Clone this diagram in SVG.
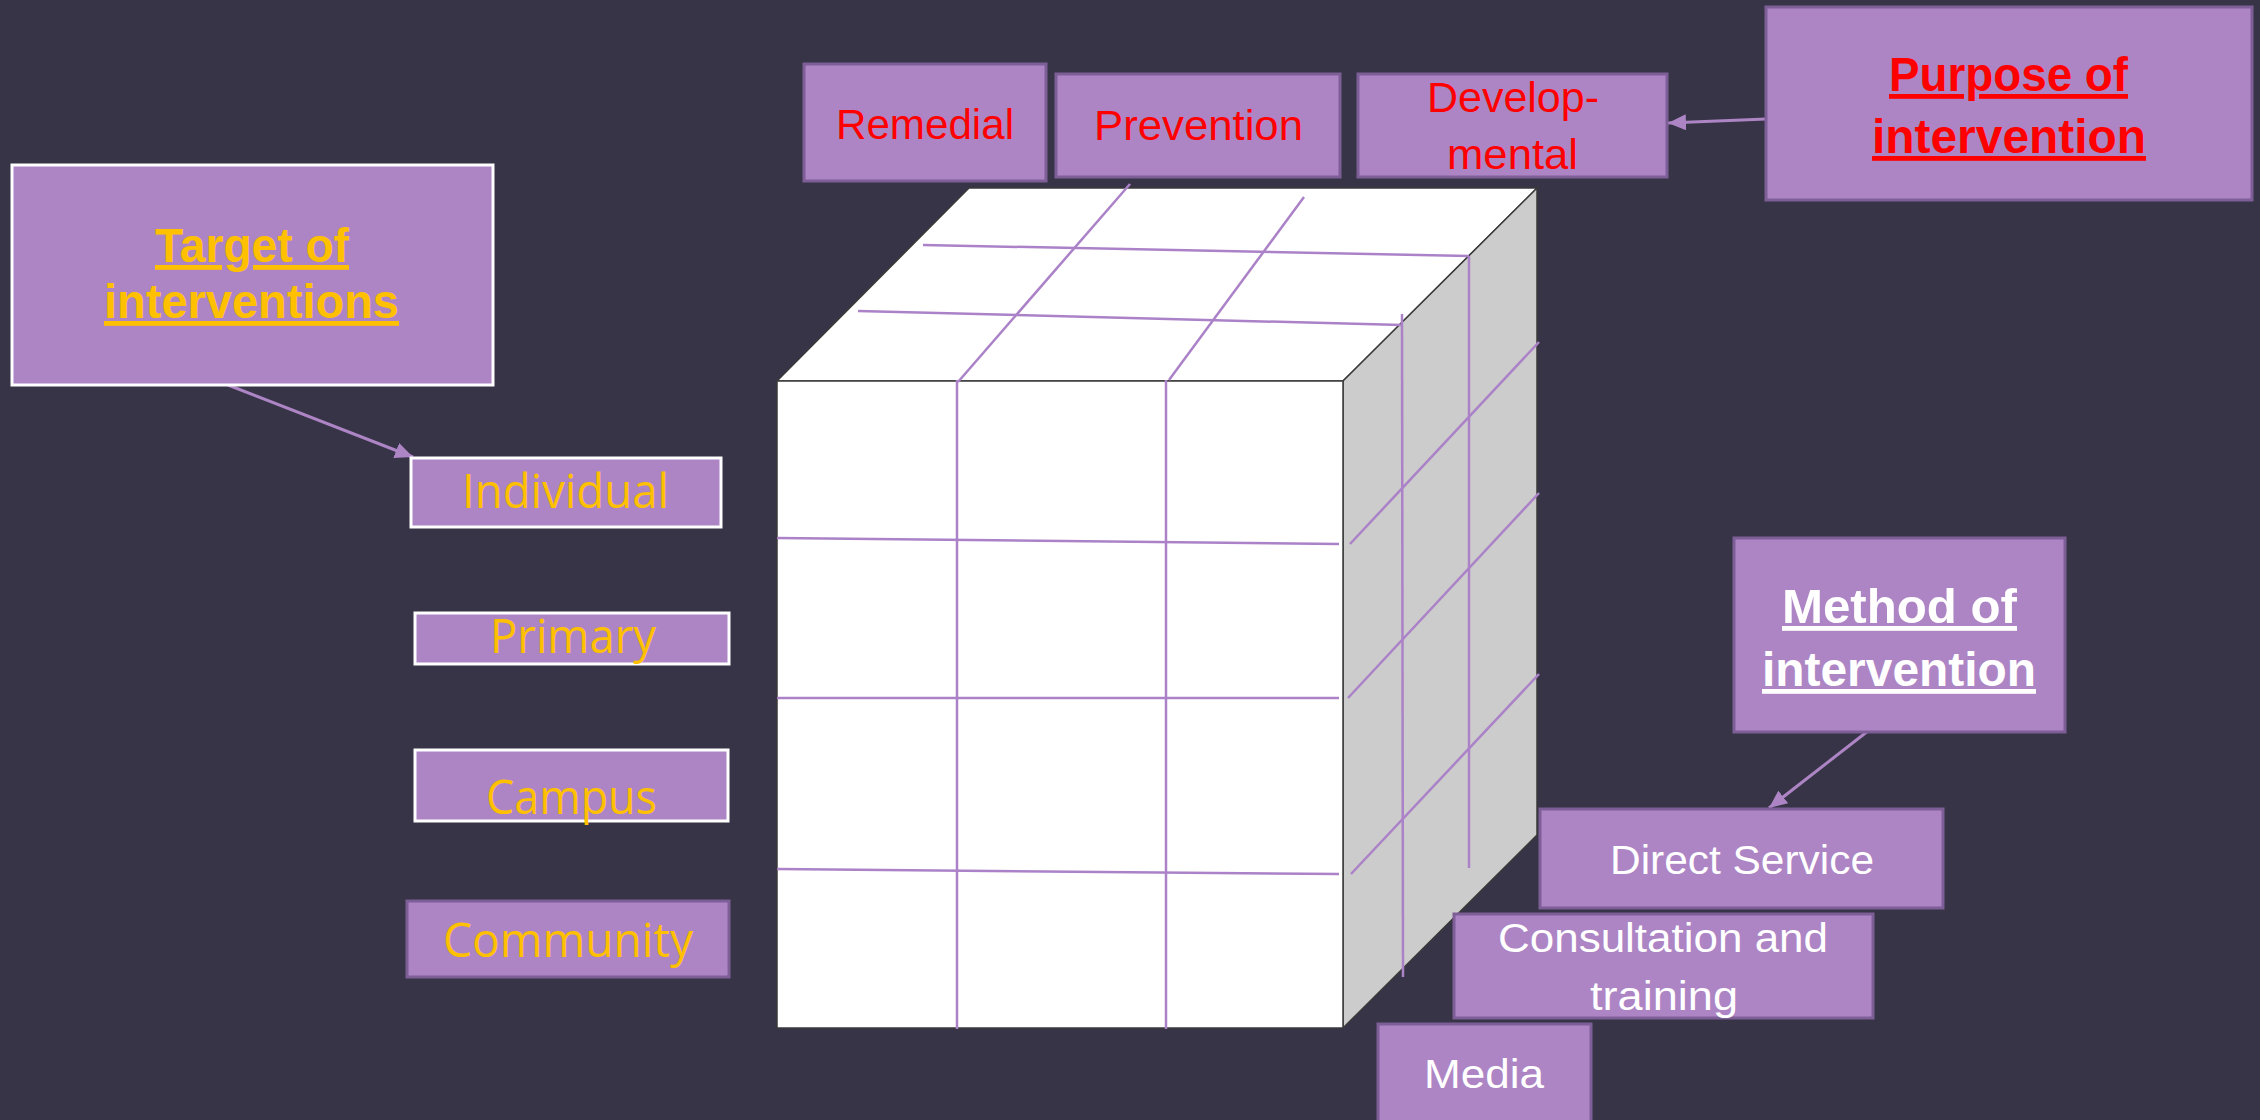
<svg xmlns="http://www.w3.org/2000/svg" width="2260" height="1120" viewBox="0 0 2260 1120">
<style>
.box{fill:#ad85c5;stroke:#7e5e96;stroke-width:3}
.wbox{fill:#ad85c5;stroke:#ffffff;stroke-width:3}
.gold{font-family:"Open Sans","Liberation Sans",sans-serif;font-size:48px;fill:#ffc000}
.red{font-family:"Liberation Sans",sans-serif;font-size:42px;fill:#ff0000}
.wht{font-family:"Liberation Sans",sans-serif;font-size:40px;fill:#ffffff}
.head{font-family:"Liberation Sans",sans-serif;font-weight:bold;font-size:48px;text-decoration:underline}
.grid{stroke:#ab82c8;stroke-width:2.5;fill:none}
.conn{stroke:#ad85c5;stroke-width:3;fill:none}
.face{stroke:#3a3a3a;stroke-width:1.5}
</style>
<defs>
<marker id="arr" markerUnits="userSpaceOnUse" markerWidth="20" markerHeight="18" refX="18" refY="8" orient="auto">
<path d="M0,0 L18,8 L0,16 z" fill="#ad85c5"/>
</marker>
</defs>
<rect x="0" y="0" width="2260" height="1120" fill="#373447"/>

<g id="cube">
<polygon class="face" points="777,381 969,188 1537,188 1343,381" fill="#ffffff"/>
<polygon class="face" points="1343,381 1537,188 1537,835 1343,1028" fill="#cccccc"/>
<rect class="face" x="777" y="381" width="566" height="647" fill="#ffffff"/>
<line class="grid" x1="923" y1="245" x2="1469" y2="256"/>
<line class="grid" x1="858" y1="311" x2="1402" y2="325"/>
<line class="grid" x1="1130" y1="184" x2="958" y2="382"/>
<line class="grid" x1="1304" y1="197" x2="1169" y2="380"/>
<line class="grid" x1="957" y1="380" x2="957" y2="1029"/>
<line class="grid" x1="1166" y1="380" x2="1166" y2="1029"/>
<line class="grid" x1="777" y1="538" x2="1339" y2="544"/>
<line class="grid" x1="777" y1="698" x2="1339" y2="698"/>
<line class="grid" x1="777" y1="869" x2="1339" y2="874"/>
<line class="grid" x1="1402" y1="314" x2="1403" y2="977"/>
<line class="grid" x1="1469" y1="256" x2="1469" y2="868"/>
<line class="grid" x1="1350" y1="544" x2="1539" y2="342"/>
<line class="grid" x1="1348" y1="698" x2="1539" y2="493"/>
<line class="grid" x1="1351" y1="874" x2="1539" y2="674"/>
</g>

<g id="connectors">
<line class="conn" x1="228" y1="385" x2="413" y2="457" marker-end="url(#arr)"/>
<line class="conn" x1="1766" y1="119" x2="1668" y2="123" marker-end="url(#arr)"/>
<line class="conn" x1="1868" y1="731" x2="1769" y2="808" marker-end="url(#arr)"/>
</g>

<g id="target">
<rect class="wbox" x="12" y="165" width="481" height="220"/>
<text class="head" fill="#ffc000" x="155" y="262" textLength="194" lengthAdjust="spacingAndGlyphs">Target of</text>
<text class="head" fill="#ffc000" x="104" y="318" textLength="295" lengthAdjust="spacingAndGlyphs">interventions</text>
</g>
<g id="individual">
<rect class="wbox" x="411" y="458" width="310" height="69"/>
<text class="gold" x="462" y="508" textLength="207" lengthAdjust="spacingAndGlyphs">Individual</text>
</g>
<g id="primary">
<rect class="wbox" x="415" y="613" width="314" height="51"/>
<text class="gold" x="490" y="653" textLength="166" lengthAdjust="spacingAndGlyphs">Primary</text>
</g>
<g id="campus">
<rect class="wbox" x="415" y="750" width="313" height="71"/>
<text class="gold" x="486" y="814" textLength="171" lengthAdjust="spacingAndGlyphs">Campus</text>
</g>
<g id="community">
<rect class="box" x="407" y="901" width="322" height="76"/>
<text class="gold" x="443" y="957" textLength="250" lengthAdjust="spacingAndGlyphs">Community</text>
</g>

<g id="remedial">
<rect class="box" x="804" y="64" width="242" height="117"/>
<text class="red" x="836" y="139" textLength="178" lengthAdjust="spacingAndGlyphs">Remedial</text>
</g>
<g id="prevention">
<rect class="box" x="1056" y="74" width="284" height="103"/>
<text class="red" x="1094" y="140" textLength="209" lengthAdjust="spacingAndGlyphs">Prevention</text>
</g>
<g id="developmental">
<rect class="box" x="1358" y="74" width="309" height="103"/>
<text class="red" x="1427" y="112" textLength="172" lengthAdjust="spacingAndGlyphs">Develop-</text>
<text class="red" x="1447" y="169" textLength="131" lengthAdjust="spacingAndGlyphs">mental</text>
</g>
<g id="purpose">
<rect class="box" x="1766" y="7" width="486" height="193"/>
<text class="head" fill="#ff0000" x="1889" y="91" textLength="239" lengthAdjust="spacingAndGlyphs">Purpose of</text>
<text class="head" fill="#ff0000" x="1872" y="153" textLength="274" lengthAdjust="spacingAndGlyphs">intervention</text>
</g>

<g id="method">
<rect class="box" x="1734" y="538" width="331" height="194"/>
<text class="head" fill="#ffffff" font-size="45" x="1782" y="623" textLength="235" lengthAdjust="spacingAndGlyphs">Method of</text>
<text class="head" fill="#ffffff" font-size="45" x="1762" y="686" textLength="274" lengthAdjust="spacingAndGlyphs">intervention</text>
</g>
<g id="direct">
<rect class="box" x="1540" y="809" width="403" height="99"/>
<text class="wht" x="1610" y="874" textLength="264" lengthAdjust="spacingAndGlyphs">Direct Service</text>
</g>
<g id="consultation">
<rect class="box" x="1454" y="914" width="419" height="104"/>
<text class="wht" x="1498" y="952" textLength="330" lengthAdjust="spacingAndGlyphs">Consultation and</text>
<text class="wht" x="1590" y="1010" textLength="148" lengthAdjust="spacingAndGlyphs">training</text>
</g>
<g id="media">
<rect class="box" x="1378" y="1024" width="213" height="100"/>
<text class="wht" x="1424" y="1088" textLength="120" lengthAdjust="spacingAndGlyphs">Media</text>
</g>
</svg>
